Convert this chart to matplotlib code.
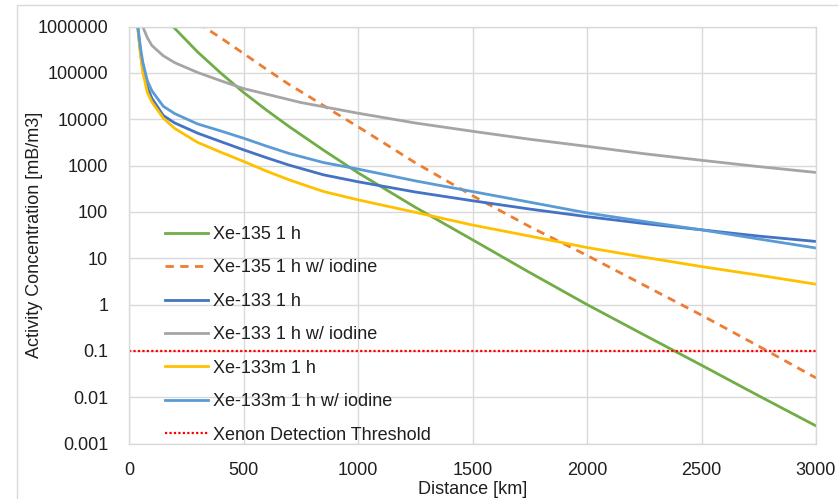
import matplotlib
matplotlib.use("Agg")
import matplotlib.pyplot as plt
from matplotlib.patches import Rectangle
from matplotlib.ticker import FixedLocator, FixedFormatter, NullLocator

plt.rcParams['font.family'] = ['Liberation Sans', 'DejaVu Sans']

# ---- data (distance in km, activity concentration in mB/m3) ----
dist_xe135 = [150, 200, 300, 400, 500, 600, 700, 850, 1000, 1250, 1500, 1750, 2000, 2250, 2500, 2750, 3000]
xe135_1h = [1.6e6, 912000, 282000, 100000, 38000, 15800, 6900, 2140, 700, 126, 25, 4.9, 1.0, 0.22, 0.049, 0.0107, 0.0024]

dist_xe135_i = [250, 300, 400, 500, 600, 700, 800, 900, 1000, 1250, 1500, 1750, 2000, 2250, 2500, 2750, 3000]
xe135_1h_iodine = [1.86e6, 1.2e6, 575000, 263000, 120000, 56000, 28000, 13800, 6900, 1150, 224, 48, 11.5, 2.6, 0.59, 0.126, 0.026]

dist_xe133 = [30, 38, 50, 60, 80, 100, 150, 200, 300, 400, 500, 600, 700, 850, 1000,
              1250, 1500, 1750, 2000, 2250, 2500, 2750, 3000]
xe133_1h = [4.0e6, 1.0e6, 282000, 123000, 49000, 28200, 12000, 8300, 5000, 3300, 2190, 1480, 1020, 630, 447,
            269, 174, 115, 79, 56, 41, 30, 23]
xe133m_1h = [4.0e6, 1.0e6, 251000, 105000, 38000, 23400, 10500, 6300, 3160, 1950, 1230, 760, 490, 275, 182,
             98, 52, 30, 17, 10.5, 6.6, 4.3, 2.75]
xe133m_1h_iodine = [4.0e6, 1.07e6, 355000, 174000, 68000, 41000, 19000, 13200, 7900, 5600, 3900, 2630, 1820, 1160, 840,
                    468, 275, 162, 95, 62, 41, 26, 16.6]

dist_xe133_i = [40, 60, 80, 100, 150, 200, 300, 400, 500, 750, 1000, 1250, 1500, 1750, 2000, 2250, 2500, 2750, 3000]
xe133_1h_iodine = [2.5e6, 1.0e6, 575000, 390000, 234000, 166000, 102000, 68000, 46000, 23000, 13500, 8300, 5500,
                   3700, 2600, 1800, 1300, 950, 710]

threshold_dist = [0, 3000]
threshold = [0.1, 0.1]

y_ticks = [0.001, 0.01, 0.1, 1, 10, 100, 1000, 10000, 100000, 1000000]
y_tick_labels = ["0.001", "0.01", "0.1", "1", "10", "100", "1000", "10000", "100000", "1000000"]
x_ticks = [0, 500, 1000, 1500, 2000, 2500, 3000]
x_tick_labels = ["0", "500", "1000", "1500", "2000", "2500", "3000"]

W, H = 838, 499
fig = plt.figure(figsize=(W / 100, H / 100), dpi=100)
ax = fig.add_axes([129 / W, 1 - 443.5 / H, (816 - 129) / W, (443.5 - 26.6) / H])

# outer chart frame
fig.patches.append(Rectangle((17 / W, -0.1), 1.2, 1.1 - 5 / H, transform=fig.transFigure,
                             fill=False, edgecolor='#D9D9D9', lw=1.0, zorder=0))

lw = 2.0
ax.plot(dist_xe135, xe135_1h, color='#70AD47', lw=lw, label='Xe-135 1 h')
ax.plot(dist_xe135_i, xe135_1h_iodine, color='#ED7D31', lw=lw, ls=(0, (3, 2.3)), label='Xe-135 1 h w/ iodine')
ax.plot(dist_xe133, xe133_1h, color='#4472C4', lw=lw, label='Xe-133 1 h')
ax.plot(dist_xe133_i, xe133_1h_iodine, color='#A5A5A5', lw=lw, label='Xe-133 1 h w/ iodine')
ax.plot(dist_xe133, xe133m_1h, color='#FFC000', lw=lw, label='Xe-133m 1 h')
ax.plot(dist_xe133, xe133m_1h_iodine, color='#5B9BD5', lw=lw, label='Xe-133m 1 h w/ iodine')
ax.plot(threshold_dist, threshold, color='#FF0000', lw=1.6, ls=(0, (1, 1)), label='Xenon Detection Threshold')

ax.set_yscale('log')
ax.set_xlim(0, 3000)
ax.set_ylim(0.001, 1000000)
ax.yaxis.set_major_locator(FixedLocator(y_ticks))
ax.yaxis.set_major_formatter(FixedFormatter(y_tick_labels))
ax.yaxis.set_minor_locator(NullLocator())
ax.xaxis.set_major_locator(FixedLocator(x_ticks))
ax.xaxis.set_major_formatter(FixedFormatter(x_tick_labels))

ax.grid(True, color='#D9D9D9', lw=1.0)
ax.set_axisbelow(True)
for s in ax.spines.values():
    s.set_color('#D9D9D9')
    s.set_linewidth(1.0)

txt_color = '#1f1f1f'
ax.tick_params(axis='both', length=0, labelsize=13, colors=txt_color)
ax.tick_params(axis='y', pad=15)
ax.tick_params(axis='x', pad=13)

ax.set_ylabel('Activity Concentration [mB/m3]', fontsize=13, color=txt_color, va='center')
ax.yaxis.set_label_coords((34 - 129) / (816 - 129), 0.5)
ax.set_xlabel('Distance [km]', fontsize=13, color=txt_color, labelpad=2)

leg = ax.legend(loc='upper left', bbox_to_anchor=(165 / W, 1 - 226 / H), bbox_transform=fig.transFigure,
                frameon=False, fontsize=13, handlelength=2.4, handletextpad=0.25,
                labelspacing=0.91, borderpad=0, borderaxespad=0)
for t in leg.get_texts():
    t.set_color(txt_color)

fig.savefig('out.png', dpi=100)
